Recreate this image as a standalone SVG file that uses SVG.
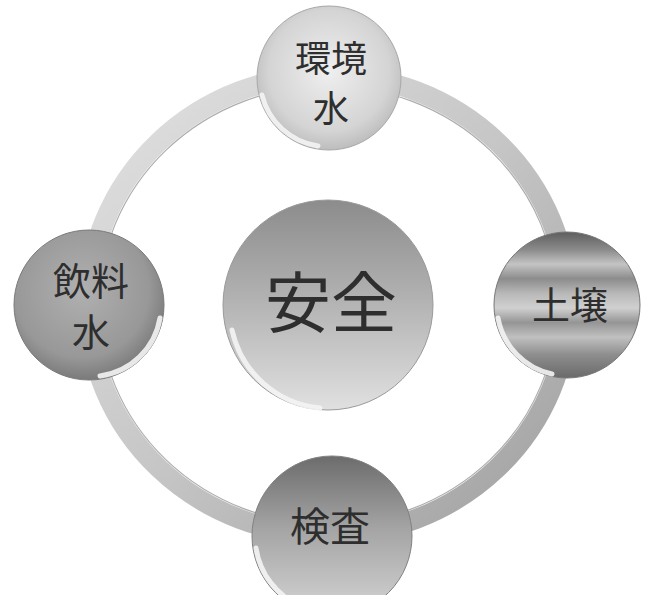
<svg xmlns="http://www.w3.org/2000/svg" width="646" height="595" viewBox="0 0 646 595">
<style>
  .lbl { font-family: "Noto Sans CJK JP", "Noto Sans CJK SC", sans-serif; fill: #2e2e2e; text-anchor: middle; }
  .rim { fill: none; stroke: #f4f4f4; stroke-width: 5; stroke-linecap: round; opacity: 0.9; }
</style>
<defs>
  <linearGradient id="ringG" x1="0" y1="0" x2="1" y2="1">
    <stop offset="0" stop-color="#e2e2e2"/>
    <stop offset="0.5" stop-color="#c6c6c6"/>
    <stop offset="1" stop-color="#9e9e9e"/>
  </linearGradient>
  <linearGradient id="centerG" x1="0" y1="0" x2="0" y2="1">
    <stop offset="0" stop-color="#8c8c8c"/>
    <stop offset="0.45" stop-color="#b0b0b0"/>
    <stop offset="1" stop-color="#e0e0e0"/>
  </linearGradient>
  <radialGradient id="topG" cx="0.5" cy="0.45" r="0.6">
    <stop offset="0" stop-color="#efefef"/>
    <stop offset="0.7" stop-color="#d4d4d4"/>
    <stop offset="1" stop-color="#b4b4b4"/>
  </radialGradient>
  <linearGradient id="rightG" x1="0" y1="0" x2="0" y2="1">
    <stop offset="0" stop-color="#5e5e5e"/>
    <stop offset="0.12" stop-color="#8a8a8a"/>
    <stop offset="0.22" stop-color="#c4c4c4"/>
    <stop offset="0.32" stop-color="#8c8c8c"/>
    <stop offset="0.42" stop-color="#b8b8b8"/>
    <stop offset="0.52" stop-color="#d0d0d0"/>
    <stop offset="0.62" stop-color="#959595"/>
    <stop offset="0.72" stop-color="#c0c0c0"/>
    <stop offset="0.84" stop-color="#8e8e8e"/>
    <stop offset="1" stop-color="#6a6a6a"/>
  </linearGradient>
  <radialGradient id="leftG" cx="0.45" cy="0.4" r="0.6">
    <stop offset="0" stop-color="#b0b0b0"/>
    <stop offset="0.75" stop-color="#989898"/>
    <stop offset="1" stop-color="#7a7a7a"/>
  </radialGradient>
  <linearGradient id="bottomG" x1="0" y1="0" x2="0" y2="1">
    <stop offset="0" stop-color="#6c6c6c"/>
    <stop offset="0.45" stop-color="#a4a4a4"/>
    <stop offset="1" stop-color="#d4d4d4"/>
  </linearGradient>
</defs>
<rect width="646" height="595" fill="#ffffff"/>
<g id="connectors">
  <ellipse cx="328" cy="305" rx="240" ry="230" fill="none" stroke="url(#ringG)" stroke-width="20"/>
  <ellipse cx="328" cy="305" rx="229" ry="219" fill="none" stroke="#8a8a8a" stroke-width="1.2" opacity="0.7"/>
</g>
<g id="node-center">
  <circle cx="328" cy="305" r="105" fill="url(#centerG)" stroke="#9a9a9a" stroke-width="1"/>
  <path class="rim" d="M 232 330 A 100 100 0 0 0 320 408"/>
  <text class="lbl" x="331" y="327" font-size="66">安全</text>
</g>
<g id="node-top">
  <circle cx="329" cy="78" r="72" fill="url(#topG)" stroke="#a8a8a8" stroke-width="1"/>
  <path class="rim" d="M 262 95 A 68 68 0 0 0 318 146"/>
  <text class="lbl" x="331" y="72" font-size="36">環境</text>
  <text class="lbl" x="331" y="122" font-size="36">水</text>
</g>
<g id="node-right">
  <circle cx="567" cy="305" r="73" fill="url(#rightG)" stroke="#777" stroke-width="1"/>
  <path class="rim" d="M 498 318 A 70 70 0 0 0 552 374"/>
  <text class="lbl" x="570" y="319" font-size="38">土壌</text>
</g>
<g id="node-left">
  <circle cx="89" cy="305" r="75" fill="url(#leftG)" stroke="#7a7a7a" stroke-width="1"/>
  <path class="rim" d="M 100 376 A 70 70 0 0 0 160 318"/>
  <text class="lbl" x="91" y="295" font-size="38">飲料</text>
  <text class="lbl" x="91" y="346" font-size="38">水</text>
</g>
<g id="node-bottom">
  <circle cx="332" cy="536" r="80" fill="url(#bottomG)" stroke="#808080" stroke-width="1"/>
  <path class="rim" d="M 256 548 A 76 76 0 0 0 300 606"/>
  <text class="lbl" x="330" y="541" font-size="40">検査</text>
</g>
</svg>
